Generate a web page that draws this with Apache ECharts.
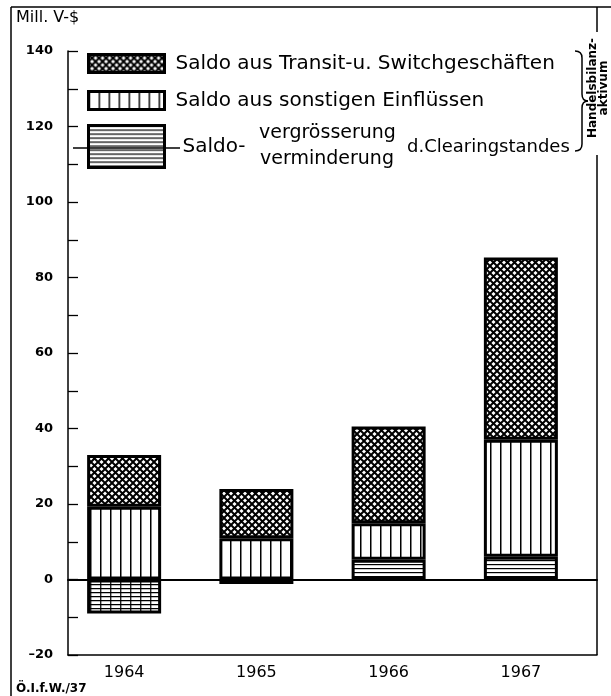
<!DOCTYPE html>
<html>
<head>
<meta charset="utf-8">
<script src="https://cdn.jsdelivr.net/npm/echarts@6/dist/echarts.min.js"></script>
<style>
  html, body { margin: 0; padding: 0; background: #fff; }
  #chart { width: 611px; height: 696px; }
</style>
</head>
<body>
<div id="chart"></div>
<script>
// values (Mill. V-$)
var years = ['1964', '1965', '1966', '1967'];
var clearing = [-9, -1.2, 5.2, 6];
var sonstige = [19.3, 10.9, 9.7, 31];
var transit = [13.7, 13.1, 25.6, 48.3];
var yLabels = [-20, 0, 20, 40, 60, 80, 100, 120, 140];

var nameTransit = 'Saldo aus Transit-u. Switchgeschäften';
var nameSonstige = 'Saldo aus sonstigen Einflüssen';
var nameClearing = 'Saldo-vergrösserung/verminderung d.Clearingstandes';

var font = 'DejaVu Sans';

// hatch fills drawn on small canvases
function makePattern(kind) {
  var c = document.createElement('canvas');
  var w = 4, h = 4;
  if (kind === 'cross') { w = 7; h = 7; }
  if (kind === 'vert') { w = 10; h = 10; }
  if (kind === 'grid') { w = 10; h = 4; }
  c.width = w;
  c.height = h;
  var ctx = c.getContext('2d');
  ctx.fillStyle = '#fff';
  ctx.fillRect(0, 0, w, h);
  ctx.strokeStyle = '#000';
  ctx.beginPath();
  if (kind === 'cross') {
    ctx.lineWidth = 2;
    ctx.moveTo(-1, -1); ctx.lineTo(w + 1, h + 1);
    ctx.moveTo(-1, h + 1); ctx.lineTo(w + 1, -1);
  } else if (kind === 'vert') {
    ctx.lineWidth = 1.5;
    ctx.moveTo(0.75, 0); ctx.lineTo(0.75, h);
  } else if (kind === 'horiz') {
    ctx.lineWidth = 1.2;
    ctx.moveTo(0, 0.6); ctx.lineTo(w, 0.6);
  } else {
    ctx.lineWidth = 1.2;
    ctx.moveTo(0, 0.6); ctx.lineTo(w, 0.6);
    ctx.moveTo(0.75, 0); ctx.lineTo(0.75, h);
  }
  ctx.stroke();
  return { image: c, repeat: 'repeat' };
}

var crossFill = makePattern('cross');
var vertFill = makePattern('vert');
var horizFill = makePattern('horiz');
var gridFill = makePattern('grid');

function barData(values, negFill) {
  return values.map(function (v) {
    var item = { value: v };
    if (negFill && v < 0) item.itemStyle = { color: negFill };
    return item;
  });
}

function barSeries(name, values, fill, negFill) {
  return {
    name: name,
    type: 'bar',
    stack: 'saldo',
    barWidth: 74,
    xAxisIndex: 0,
    yAxisIndex: 0,
    data: barData(values, negFill),
    itemStyle: { color: fill, borderColor: '#000', borderWidth: 3 },
    emphasis: { disabled: true }
  };
}

function line(x1, y1, x2, y2) {
  return { type: 'line', z: 10, shape: { x1: x1, y1: y1, x2: x2, y2: y2 }, style: { stroke: '#000', lineWidth: 1.5 } };
}

function curve(x1, y1, cx, cy, x2, y2) {
  return {
    type: 'bezierCurve', z: 10,
    shape: { x1: x1, y1: y1, cpx1: cx, cpy1: cy, x2: x2, y2: y2 },
    style: { fill: 'none', stroke: '#000', lineWidth: 1.5 }
  };
}

var chart = echarts.init(document.getElementById('chart'));

var hidden = { show: false };

var option = {
  animation: false,
  backgroundColor: '#fff',
  // grid 0 holds the bars, grid 1 the drawn axes (the bars sit a bit left of centre)
  grid: [
    { left: 58, right: 24, top: 51, bottom: 41 },
    { left: 68, right: 14, top: 51, bottom: 41 }
  ],
  xAxis: [
    {
      gridIndex: 0,
      type: 'category',
      data: years,
      axisLine: hidden,
      axisTick: hidden,
      splitLine: hidden,
      axisLabel: { color: '#000', fontFamily: font, fontSize: 16, margin: 10 }
    },
    {
      gridIndex: 1,
      type: 'value',
      position: 'top',
      min: 0,
      max: 1,
      axisLine: { show: true, onZero: true, lineStyle: { color: '#000', width: 2 } },
      axisTick: hidden,
      axisLabel: hidden,
      splitLine: hidden
    },
    {
      gridIndex: 1,
      type: 'value',
      position: 'bottom',
      min: 0,
      max: 1,
      axisLine: { show: true, onZero: false, lineStyle: { color: '#000', width: 1.5 } },
      axisTick: hidden,
      axisLabel: hidden,
      splitLine: hidden
    }
  ],
  yAxis: [
    { gridIndex: 0, type: 'value', min: -20, max: 140, show: false },
    {
      gridIndex: 1,
      type: 'value',
      min: -20,
      max: 140,
      interval: 10,
      splitLine: hidden,
      axisLine: { show: true, onZero: false, lineStyle: { color: '#000', width: 1.5 } },
      axisTick: { show: true, inside: true, length: 10, lineStyle: { color: '#000', width: 1.3 } },
      axisLabel: {
        color: '#000',
        fontFamily: font,
        fontWeight: 'bold',
        fontSize: 13,
        margin: 15,
        formatter: function (v) {
          if (yLabels.indexOf(v) < 0) return '';
          return v < 0 ? '\u2013' + Math.abs(v) : String(v);
        }
      }
    }
  ],
  legend: [
    {
      data: [nameTransit, nameSonstige],
      orient: 'vertical',
      left: 87,
      top: 53,
      padding: 0,
      icon: 'rect',
      itemWidth: 76,
      itemHeight: 18,
      itemGap: 16,
      selectedMode: false,
      itemStyle: { borderColor: '#000', borderWidth: 3 },
      textStyle: { color: '#000', fontFamily: font, fontSize: 20, padding: [0, 0, 0, 6] }
    },
    {
      data: [nameClearing],
      left: 87,
      top: 124,
      padding: 0,
      icon: 'rect',
      itemWidth: 76,
      itemHeight: 42,
      selectedMode: false,
      itemStyle: { borderColor: '#000', borderWidth: 3 },
      formatter: function () { return 'Saldo-'; },
      textStyle: { color: '#000', fontFamily: font, fontSize: 20, padding: [8, 0, 0, 13] }
    }
  ],
  series: [
    barSeries(nameClearing, clearing, horizFill, gridFill),
    barSeries(nameSonstige, sonstige, vertFill),
    barSeries(nameTransit, transit, crossFill)
  ],
  graphic: [
    // outer frame
    line(11, 7, 611, 7),
    line(11, 7, 11, 696),
    line(597, 7, 597, 32),
    line(597, 155, 597, 655),
    { type: 'text', left: 16, top: 10, style: { text: 'Mill. V-$', font: '16px ' + font, fill: '#000' } },
    { type: 'text', left: 16, top: 683, style: { text: 'Ö.I.f.W./37', font: 'bold 12px ' + font, fill: '#000' } },
    // third legend entry: line and stacked words
    line(73, 148, 180, 148),
    { type: 'text', left: 259, top: 124, style: { text: 'vergrösserung', font: '19px ' + font, fill: '#000' } },
    { type: 'text', left: 260, top: 150, style: { text: 'verminderung', font: '19px ' + font, fill: '#000' } },
    { type: 'text', left: 407, top: 138, style: { text: 'd.Clearingstandes', font: '18px ' + font, fill: '#000' } },
    // brace and side note
    curve(575, 51, 582, 51, 582, 58),
    line(582, 58, 582, 94),
    curve(582, 94, 582, 101, 588, 101),
    curve(588, 101, 582, 101, 582, 108),
    line(582, 108, 582, 144),
    curve(582, 144, 582, 151, 575, 151),
    {
      type: 'text',
      x: 598,
      y: 88,
      rotation: Math.PI / 2,
      style: {
        text: 'Handelsbilanz-\naktivum',
        font: 'bold 12px ' + font,
        fill: '#000',
        lineHeight: 11,
        align: 'center',
        verticalAlign: 'middle'
      }
    }
  ]
};

chart.setOption(option);
</script>
</body>
</html>
